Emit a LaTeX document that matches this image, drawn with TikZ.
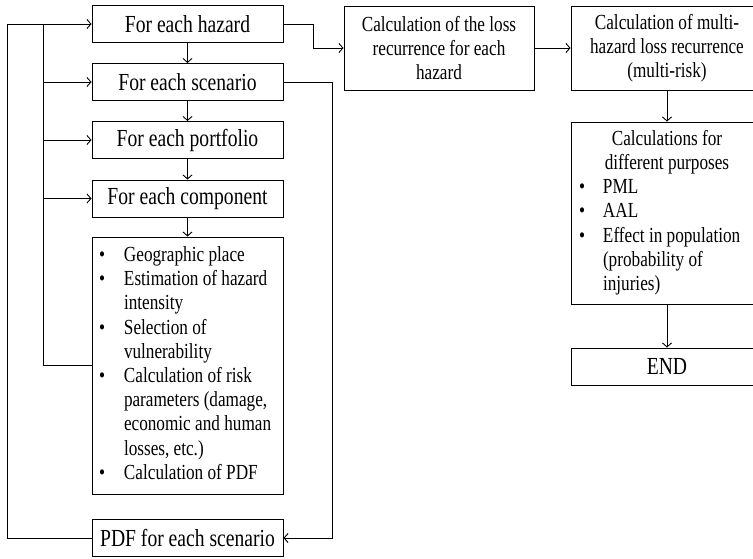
\documentclass[tikz,border=0pt]{standalone}
\usepackage{fontspec}
\setmainfont{Liberation Serif}[FakeStretch=0.8]
\usetikzlibrary{arrows.meta}
\begin{document}
\begin{tikzpicture}[x=1pt, y=-1pt,
  loopbox/.style={draw, line width=0.9pt, inner sep=0pt, minimum width=191, minimum height=37, font=\fontsize{24.5}{24}\selectfont},
  calcbox/.style={draw, line width=0.9pt, inner sep=0pt, align=center, minimum width=192, font=\fontsize{21.5}{24.2}\selectfont},
  flow/.style={line width=0.9pt, -{Straight Barb[length=4pt, width=9pt]}}]
  \clip (0,0) rectangle (753,559);

  \node[loopbox] (haz) at (187.5, 24) {For each hazard};
  \node[loopbox] (scen) at (187.5, 82) {For each scenario};
  \node[loopbox] (port) at (187.5, 140) {For each portfolio};
  \node[loopbox] (comp) at (187.5, 198.5) {For each component};
  \node[calcbox, minimum width=191, minimum height=257] (steps) at (187.5, 365.5) {%
    \begin{tabular}{@{}p{25pt}@{}p{152pt}@{}}
      \textbullet & Geographic place\\
      \textbullet & Estimation of hazard\\
                  & intensity\\
      \textbullet & Selection of\\
                  & vulnerability\\
      \textbullet & Calculation of risk\\
                  & parameters (damage,\\
                  & economic and human\\
                  & losses, etc.)\\
      \textbullet & Calculation of PDF
    \end{tabular}};
  \node[loopbox] (pdf) at (187.5, 538) {PDF for each scenario};

  \node[calcbox, minimum width=190, minimum height=84] (loss) at (439, 48)
    {Calculation of the loss\\recurrence for each\\hazard};
  \node[calcbox, minimum height=84] (multi) at (667, 48)
    {Calculation of multi-\\hazard loss recurrence\\(multi-risk)};
  \node[calcbox, minimum height=182] (purp) at (667, 213) {%
    \begin{tabular}{@{}p{24pt}@{}p{152pt}@{}}
      \multicolumn{2}{c}{Calculations for}\\
      \multicolumn{2}{c}{different purposes}\\
      \textbullet & PML\\
      \textbullet & AAL\\
      \textbullet & Effect in population\\
                  & (probability of\\
                  & injuries)
    \end{tabular}};
  \node[loopbox, minimum width=192] (end) at (667, 366.5) {END};

  % loop lines on the left
  \coordinate (outer) at (7, 24);
  \coordinate (inner) at (43, 24);
  \draw[flow] (pdf.west) -| (outer) -- (haz.west);
  \draw[line width=0.9pt] (steps.west) -| (inner);
  \draw[flow] (inner |- scen.west) -- (scen.west);
  \draw[flow] (inner |- port.west) -- (port.west);
  \draw[flow] (inner |- comp.west) -- (comp.west);

  % loop line on the right
  \coordinate (back) at (332, 82);
  \draw[flow] (scen.east) -- (back) |- (pdf.east);

  \draw[flow] (haz) -- (scen);
  \draw[flow] (scen) -- (port);
  \draw[flow] (port) -- (comp);
  \draw[flow] (comp) -- (steps);

  \coordinate (bend) at (313, 24);
  \draw[flow] (haz.east) -- (bend) |- (loss.west);
  \draw[flow] (loss) -- (multi);
  \draw[flow] (multi) -- (purp);
  \draw[flow] (purp) -- (end);
\end{tikzpicture}
\end{document}
